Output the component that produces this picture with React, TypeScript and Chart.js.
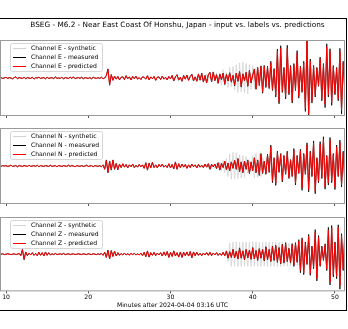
import React, { useEffect, useRef } from 'react';
import { Chart, registerables } from 'chart.js';

Chart.register(...registerables);

// ---------- data ----------
const SERIES_START = 9.2; // minutes
const SYNTH_START = 33.0; // minutes
const STEP = 0.2; // minutes between samples
const X_MIN = 9.27;
const X_MAX = 51.22;
const xTickValues = [10, 20, 30, 40, 50];
const chartTitle = 'BSEG - M6.2 - Near East Coast Of Honshu, Japan - input vs. labels vs. predictions';
const xAxisLabel = 'Minutes after 2024-04-04 03:16 UTC';
const channelNames = ['E', 'N', 'Z'];

const ePredicted = [
  0, 1, -1, 0, 2, -1, 1, 0, -2, 1,
  3, -2, 1, 0, -1, 2, -2, 1, 0, -1,
  2, -3, 1, 0, 2, -1, 0, 1, -2, 2,
  -1, 0, 1, -2, 3, -1, 0, -1, 2, -2,
  1, 0, -1, 2, -1, 3, -2, 0, 1, -1,
  2, -2, 1, 0, -1, 1, -2, 2, 0, -1,
  1, -1, 2, -2, 0,
  6, 22, -17, 9,
  -6, 5, -3, 4, -5, 2, 3, -4, 6, -2,
  3, -5, 4, -2, 5, -3, 1, -4, 3, 2,
  -3, 6, -5, 3, -2, 4, -6, 2, 3, -4,
  5, -3, 2, -5, 4, -2,
  6, -7, 3, 8, -5, 2, -8, 6, -3, 7, -6, 4, 9, -7, 3,
  -8, 10, -5, 12, -10, 6, -12, 8, 14, -9,
  15, -6, 8, -13, 10, -4, 12, -15, 9, -7,
  13, -10, 6, -18, 12, -8, 16, -22, 10, -6,
  14, -20, 18, -12, 8,
  22, -28, 26, -18, 30,
  -36, 30, -22, 28, -25, 40, -30, 22, -45, 70,
  -62, 78, -35, 25, -50, 78, -40, 30, -60, 35,
  -30, 65, -48, 28, -35, 40, -80, 100, -95, 45,
  -60, 30, -45, 25, -20, 50, -55, 35, -70, 82,
  -45, 70, -65, 30, -40, 25, -55, 70, -85, 40, -35,
];

const eMeasured = [
  0, 1, -1, 0, 2, -1, 1, 0, -2, 1,
  3, -2, 1, 0, -1, 2, -2, 1, 0, -1,
  2, -3, 1, 0, 2, -1, 0, 1, -2, 2,
  -1, 0, 1, -2, 3, -1, 0, -1, 2, -2,
  1, 0, -1, 2, -1, 3, -2, 0, 1, -1,
  2, -2, 1, 0, -1, 1, -2, 2, 0, -1,
  1, -1, 2, -2, 0,
  7, 24, -19, 9,
  -6, 5, -3, 4, -5, 2, 3, -4, 6, -2,
  3, -5, 4, -2, 5, -3, 1, -4, 3, 2,
  -3, 6, -5, 3, -2, 4, -6, 2, 3, -4,
  5, -3, 2, -5, 4, -2,
  7, -8, 3, 9, -6, 2, -9, 7, -3, 8, -6, 4, 10, -8, 3,
  -9, 11, -6, 13, -11, 7, -13, 9, 15, -10,
  16, -7, 9, -14, 11, -5, 13, -17, 10, -8,
  14, -11, 7, -21, 13, -9, 17, -24, 11, -7,
  15, -22, 20, -13, 9,
  24, -30, 28, -20, 32,
  -40, 33, -25, 31, -28, 44, -33, 25, -50, 76,
  -68, 85, -38, 28, -55, 86, -44, 33, -66, 38,
  -33, 72, -53, 31, -38, 44, -88, 100, -100, 50,
  -66, 33, -50, 28, -22, 55, -60, 38, -78, 90,
  -50, 77, -72, 33, -44, 28, -60, 78, -95, 44, -38,
];

const eSynthetic = [
  0, 3, -4, 5, -6, 4, -8, 10, -7, 5,
  -10, 12, -8, 14, -15, 10, -18, 22, -20, 15,
  -25, 28, -22, 30, -32, 35, -38, 40, -36, 42,
  -40, 38, -42, 35, -30, 32, -28, 25, -22, 20,
  20, -22, 18, -14, 17, -15, 24, -18, 14, -27,
  42, -37, 47, -21, 15, -30, 47, -24, 18, -36,
  21, -18, 39, -29, 17, -21, 24, -48, 60, -57,
  27, -36, 18, -27, 15, -12, 30, -33, 21, -42,
  49, -27, 42, -39, 18, -24, 15, -33, 42, -51,
  24, -21,
];

const nPredicted = [
  0, -1, 1, 0, 1, -1, 0, 2, -1, 0,
  1, -2, 1, 0, -1, 1, 0, -1, 2, -1,
  0, 1, -1, 2, -2, 1, 0, -1, 1, 0,
  -1, 2, -1, 0, 1, -2, 1, 0, -1, 1,
  0, -1, 2, -1, 1, 0, -2, 1, 0, -1,
  1, -1, 0, 2, -1, 0, 1, -2, 1, 0,
  -1, 1, -2, 3, -8,
  14, -16, 12, -10, 15, -8, 6, -9, 5, -4,
  6, -3, 4, -5, 3, -2, 5, -4, 2, -3,
  4, -2, 3, -6, 8, -10, 7, -5, 9, -4,
  3, -5, 4, -2, 5, -3, 2, -4, 6, -5,
  4, -7, 10, -8, 6, -4, 5, -3, 4, -6,
  3, -4, 5, -2, 3, -5, 4, -3, 2, -4,
  5, -3, 6, -8, 4, -2, 5, -6, 8, -10,
  6, -4, 12, -9, 7, -12, 10, -6, 14, -8,
  18, -14, 10, -16, 12, -8, 15, -18, 10, -12,
  20, -16, 14, -22, 30, -18, 12, -20, 28, -15,
  50, -40, 20, -46, 35, -15, 30, -38, 25, -20,
  35, -30, 15, -25, 42, -45, 25, -18, 40, -58,
  30, -20, 55, -62, 35, -25, 60, -66, 20, -40,
  58, -30, 70, -55, 25, -45, 68, -40, 30, -56,
  50, -25, 62, -50, 35, -40,
];

const nMeasured = [
  0, -1, 1, 0, 1, -1, 0, 2, -1, 0,
  1, -2, 1, 0, -1, 1, 0, -1, 2, -1,
  0, 1, -1, 2, -2, 1, 0, -1, 1, 0,
  -1, 2, -1, 0, 1, -2, 1, 0, -1, 1,
  0, -1, 2, -1, 1, 0, -2, 1, 0, -1,
  1, -1, 0, 2, -1, 0, 1, -2, 1, 0,
  -1, 1, -2, 3, -9,
  16, -18, 13, -11, 16, -9, 7, -10, 5, -4,
  6, -3, 4, -5, 3, -2, 5, -4, 2, -3,
  4, -2, 3, -6, 9, -11, 8, -5, 10, -4,
  3, -5, 4, -2, 5, -3, 2, -4, 6, -5,
  4, -8, 11, -9, 6, -4, 5, -3, 4, -6,
  3, -4, 5, -2, 3, -5, 4, -3, 2, -4,
  5, -3, 6, -9, 4, -2, 5, -7, 9, -11,
  7, -4, 13, -10, 8, -13, 11, -6, 15, -9,
  20, -15, 11, -18, 13, -9, 16, -20, 11, -13,
  22, -18, 16, -25, 33, -20, 13, -22, 31, -17,
  55, -44, 22, -51, 39, -17, 33, -42, 28, -22,
  39, -33, 17, -28, 46, -50, 28, -20, 44, -64,
  33, -22, 61, -68, 39, -28, 66, -73, 22, -44,
  64, -33, 77, -61, 28, -50, 75, -44, 33, -62,
  55, -28, 68, -55, 39, -44,
];

const nSynthetic = [
  0, 2, -3, 2, -4, 3, -2, 4, -5, 3,
  -4, 6, -5, 8, -6, 10, -12, 15, -18, 20,
  -28, 32, -35, 36, -34, 35, -33, 30, -32, 28,
  -30, 25, -18, 12, -15, 28, -32, 34, -30, 32,
  -28, 22, 7, -12, 17, -9, 30, -24, 12, -28,
  21, -9, 18, -23, 15, -12, 21, -18, 9, -15,
  25, -27, 15, -11, 24, -35, 18, -12, 33, -37,
  21, -15, 36, -40, 12, -24, 35, -18, 42, -33,
  15, -27, 41, -24, 18, -34, 30, -15, 37, -30,
  21, -24,
];

const zPredicted = [
  0, 0, 1, -1, 0, 1, 0, -1, 0, 1,
  -1, 0, 2, -4, 12, -13, 6, -4, 3, -2,
  4, -3, 2, -4, 5, -3, 4, -5, 6, -3,
  4, -2, 1, -1, 2, -1, 0, 1, -1, 2,
  -1, 0, 1, -1, 0, 1, -1, 0, 1, 0,
  -1, 1, 0, -1, 1, 0, -1, 1, 0, -1,
  1, -1, 2, -3, 5,
  -8, 10, -12, 9, -6, 8, -5, 4, -3, 2,
  -2, 3, -2, 1, -2, 2, -1, 2, -2, 1,
  -2, 3, -4, 5, -6, 8, -7, 4, -3, 5,
  -4, 3, -2, 4, -5, 6, -4, 7, -8, 5,
  -6, 8, -5, 4, -7, 6, -8, 5, -4, 6,
  -5, 7, -9, 6, -4, 5, -3, 2, -4, 3,
  -2, 4, -3, 5, -4, 3, -2, 4, -3, 2,
  -3, 5, -4, 8, -10, 6, -8, 12, -9, 7,
  -12, 15, -10, 8, -14, 12, -9, 10, -13, 16,
  -12, 9, -15, 14, -10, 12, -16, 18, -14, 12,
  -18, 20, -15, 22, -20, 16, -24, 25, -22, 28,
  -18, 14, -22, 25, -30, 28, -20, 35, -45, 40,
  -50, 30, -25, 48, -52, 20, -35, 60, -65, 45,
  -30, 20, -15, 25, -40, 65, -75, 70, -55, 30,
  -60, 72, -85, 50, -40, 55,
];

const zMeasured = [
  0, 0, 1, -1, 0, 1, 0, -1, 0, 1,
  -1, 0, 2, -4, 13, -15, 6, -4, 3, -2,
  4, -3, 2, -4, 5, -3, 4, -5, 6, -3,
  4, -2, 1, -1, 2, -1, 0, 1, -1, 2,
  -1, 0, 1, -1, 0, 1, -1, 0, 1, 0,
  -1, 1, 0, -1, 1, 0, -1, 1, 0, -1,
  1, -1, 2, -3, 5,
  -9, 11, -13, 10, -6, 8, -5, 4, -3, 2,
  -2, 3, -2, 1, -2, 2, -1, 2, -2, 1,
  -2, 3, -4, 5, -7, 9, -8, 4, -3, 5,
  -4, 3, -2, 4, -5, 6, -4, 7, -9, 5,
  -6, 9, -5, 4, -8, 6, -9, 5, -4, 6,
  -5, 7, -10, 6, -4, 5, -3, 2, -4, 3,
  -2, 4, -3, 5, -4, 3, -2, 4, -3, 2,
  -3, 5, -4, 9, -11, 7, -9, 13, -10, 8,
  -13, 17, -11, 9, -15, 13, -10, 11, -14, 18,
  -13, 10, -17, 15, -11, 13, -18, 20, -15, 13,
  -20, 22, -17, 24, -22, 18, -26, 27, -24, 31,
  -20, 16, -24, 28, -33, 31, -22, 39, -50, 44,
  -55, 33, -28, 53, -57, 22, -39, 66, -72, 50,
  -33, 22, -17, 28, -44, 72, -83, 77, -61, 33,
  -66, 79, -94, 55, -44, 61,
];

const zSynthetic = [
  0, 1, -1, 2, -1, 1, -2, 2, -1, 1,
  -2, 3, -2, 2, -3, 2, -2, 3, -4, 5,
  -20, 30, -33, 33, -32, 33, -33, 32, -33, 33,
  -32, 33, -33, 32, -33, 33, -32, 33, -33, 32,
  -33, 33, -32, 33, -33, 32, -33, 33, -32, 33,
  -33, 32, -33, 33, -32, 31, -32, 30, -31, 30,
  -30, 30, -30, 21, -27, 24, -30, 18, -15, 29,
  -31, 12, -21, 36, -39, 27, -18, 12, -9, 15,
  -24, 39, -45, 42, -33, 18, -36, 43, -51, 30,
  -24, 33,
];

const channelData = [
  { predicted: ePredicted, measured: eMeasured, synthetic: eSynthetic },
  { predicted: nPredicted, measured: nMeasured, synthetic: nSynthetic },
  { predicted: zPredicted, measured: zMeasured, synthetic: zSynthetic },
];

// ---------- layout ----------
const panelLayout = [
  { top: 19, height: 100, padTop: 21, padBottom: 1, showTitle: true, showLabels: false },
  { top: 126, height: 80, padTop: 2, padBottom: 0, showTitle: false, showLabels: false },
  { top: 215, height: 95, padTop: 2, padBottom: 0, showTitle: false, showLabels: true },
];

const FONT = '"DejaVu Sans", sans-serif';
const CANVAS_W = 345;

function toPoints(values: number[], start: number) {
  return values.map((y, i) => ({ x: Math.round((start + i * STEP) * 100) / 100, y }));
}

const framePlugin = {
  id: 'frame',
  afterDatasetsDraw(chart: any) {
    const { ctx, chartArea } = chart;
    ctx.save();
    ctx.strokeStyle = '#9a9a9a';
    ctx.lineWidth = 1;
    ctx.strokeRect(chartArea.left + 0.5, chartArea.top + 0.5, chartArea.right - chartArea.left - 1, chartArea.bottom - chartArea.top - 1);
    ctx.restore();
  },
};

function roundRectPath(ctx: CanvasRenderingContext2D, x: number, y: number, w: number, h: number, r: number) {
  ctx.beginPath();
  ctx.moveTo(x + r, y);
  ctx.lineTo(x + w - r, y);
  ctx.arcTo(x + w, y, x + w, y + r, r);
  ctx.lineTo(x + w, y + h - r);
  ctx.arcTo(x + w, y + h, x + w - r, y + h, r);
  ctx.lineTo(x + r, y + h);
  ctx.arcTo(x, y + h, x, y + h - r, r);
  ctx.lineTo(x, y + r);
  ctx.arcTo(x, y, x + r, y, r);
  ctx.closePath();
}

const boxLegendPlugin = {
  id: 'boxLegend',
  afterDraw(chart: any) {
    const { ctx, chartArea } = chart;
    const left = chartArea.left;
    const top = chartArea.top;
    ctx.save();
    roundRectPath(ctx, left + 10.5, top + 3.5, 92, 28, 2);
    ctx.fillStyle = 'rgba(255,255,255,0.85)';
    ctx.fill();
    ctx.strokeStyle = '#d6d6d6';
    ctx.lineWidth = 1;
    ctx.stroke();
    const items = [...chart.data.datasets].reverse();
    items.forEach((ds: any, k: number) => {
      const y = top + 7.5 + k * 9.3;
      const ly = Math.round(y) + 0.5;
      ctx.strokeStyle = ds.borderColor;
      ctx.lineWidth = 1;
      ctx.beginPath();
      ctx.moveTo(left + 13, ly);
      ctx.lineTo(left + 26, ly);
      ctx.stroke();
      ctx.fillStyle = '#000';
      ctx.font = `6.1px ${FONT}`;
      ctx.textAlign = 'left';
      ctx.textBaseline = 'middle';
      ctx.fillText(ds.label, left + 31, y + 0.5);
    });
    ctx.restore();
  },
};

const titlePlugin = {
  id: 'figTitle',
  afterDraw(chart: any) {
    const opts = chart.options.plugins.figTitle;
    if (!opts || !opts.display) return;
    const { ctx } = chart;
    ctx.save();
    ctx.fillStyle = '#000';
    ctx.font = `7.3px ${FONT}`;
    ctx.textAlign = 'center';
    ctx.textBaseline = 'middle';
    ctx.fillText(opts.text, opts.x, opts.y);
    ctx.restore();
  },
};

function lineDataset(label: string, values: number[], start: number, color: string, width: number) {
  return {
    label,
    data: toPoints(values, start),
    borderColor: color,
    borderWidth: width,
    pointRadius: 0,
    tension: 0,
    borderJoinStyle: 'round',
  };
}

export default function App() {
  const refs = [useRef<HTMLCanvasElement>(null), useRef<HTMLCanvasElement>(null), useRef<HTMLCanvasElement>(null)];

  useEffect(() => {
    const charts: Chart[] = [];
    channelNames.forEach((ch, p) => {
      const canvas = refs[p].current;
      if (!canvas) return;
      const lay = panelLayout[p];
      const d = channelData[p];
      const cfg: any = {
        type: 'line',
        data: {
          datasets: [
            lineDataset(`Channel ${ch} - predicted`, d.predicted, SERIES_START, '#ff0000', 1),
            lineDataset(`Channel ${ch} - measured`, d.measured, SERIES_START, '#000000', 0.8),
            lineDataset(`Channel ${ch} - synthetic`, d.synthetic, SYNTH_START, '#d3d3d3', 0.8),
          ],
        },
        options: {
          animation: false,
          responsive: false,
          maintainAspectRatio: false,
          events: [],
          layout: { padding: { top: lay.padTop, bottom: lay.padBottom, left: 0, right: 0 } },
          scales: {
            x: {
              type: 'linear',
              min: X_MIN,
              max: X_MAX,
              afterBuildTicks: (scale: any) => {
                scale.ticks = xTickValues.map((v) => ({ value: v }));
              },
              grid: { display: true, drawOnChartArea: false, drawTicks: true, tickLength: 2, color: '#555', lineWidth: 1 },
              border: { display: false },
              ticks: {
                display: lay.showLabels,
                autoSkip: false,
                maxRotation: 0,
                padding: 0,
                color: '#000',
                font: { family: FONT, size: 6.1 },
                callback: (v: any) => String(v),
              },
              title: {
                display: lay.showLabels,
                text: xAxisLabel,
                color: '#000',
                font: { family: FONT, size: 6.1 },
                padding: { top: 1, bottom: 1 },
              },
            },
            y: { display: false, min: -100, max: 100 },
          },
          plugins: {
            legend: { display: false },
            tooltip: { enabled: false },
            figTitle: { display: lay.showTitle, text: chartTitle, x: 177.5, y: 25.5 - lay.top },
          },
        },
        plugins: [framePlugin, boxLegendPlugin, titlePlugin],
      };
      charts.push(new Chart(canvas, cfg));
    });
    return () => charts.forEach((c) => c.destroy());
  }, []);

  return (
    <div style={{ position: 'fixed', left: 0, top: 0, width: 348, height: 329, background: '#fff', overflow: 'hidden' }}>
      {panelLayout.map((lay, p) => (
        <canvas
          key={p}
          ref={refs[p]}
          width={CANVAS_W}
          height={lay.height}
          style={{ position: 'absolute', left: 0, top: lay.top, width: CANVAS_W, height: lay.height, display: 'block' }}
        />
      ))}
      <div
        style={{
          position: 'absolute',
          left: 0,
          top: 18,
          width: 347,
          height: 293,
          boxSizing: 'border-box',
          borderTop: '1px solid #000',
          borderRight: '1px solid #000',
          borderBottom: '1px solid #000',
          pointerEvents: 'none',
        }}
      />
    </div>
  );
}
